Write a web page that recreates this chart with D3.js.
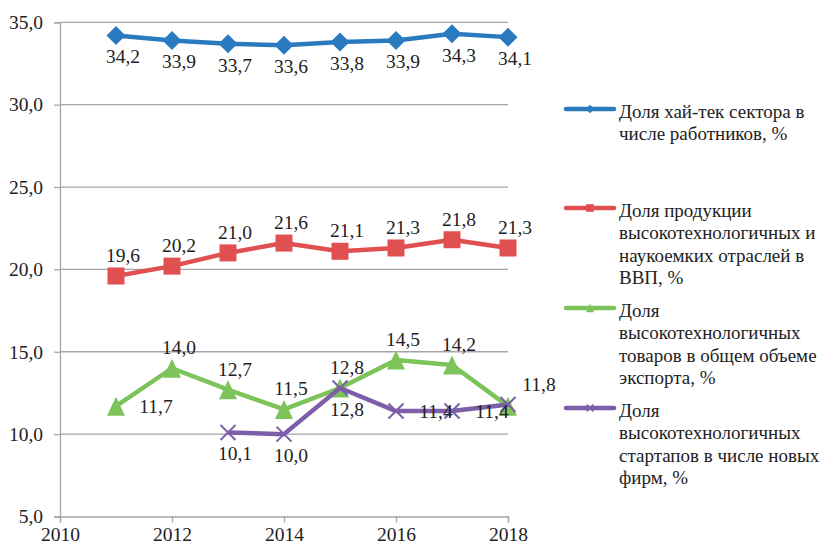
<!DOCTYPE html>
<html><head><meta charset="utf-8">
<script src="https://cdn.jsdelivr.net/npm/d3@7"></script>
<style>
html,body{margin:0;padding:0;background:#fff;}
</style></head>
<body>
<svg id="chart" width="822" height="547"></svg>
<script>
// ---- data ----
const years = [2011, 2012, 2013, 2014, 2015, 2016, 2017, 2018];
const purpleYears = [2013, 2014, 2015, 2016, 2017, 2018];
const hitechEmployment = [34.2, 33.9, 33.7, 33.6, 33.8, 33.9, 34.3, 34.1];
const hitechGdp = [19.6, 20.2, 21.0, 21.6, 21.1, 21.3, 21.8, 21.3];
const hitechExports = [11.7, 14.0, 12.7, 11.5, 12.8, 14.5, 14.2, 11.7];
const hitechStartups = [10.1, 10.0, 12.8, 11.4, 11.4, 11.8];
const yTicks = [5, 10, 15, 20, 25, 30, 35];
const xTicks = [2010, 2012, 2014, 2016, 2018];
const legendLabels = [
  ["Доля хай-тек сектора в", "числе работников, %"],
  ["Доля продукции", "высокотехнологичных и", "наукоемких отраслей в", "ВВП, %"],
  ["Доля", "высокотехнологичных", "товаров в общем объеме", "экспорта, %"],
  ["Доля", "высокотехнологичных", "стартапов в числе новых", "фирм, %"]
];

// label placements (style only)
const placeBlue = ["below","below","below","below","below","below","below","below"];
const placeRed = ["above","above","above","above","above","above","above","above"];
const placeGreen = ["right","above","above","above","above","above","above","none"];
const placePurple = ["below","below","below","right","right","aboveRight"];

const series = [
  {x: years, y: hitechEmployment, color: "#2a7abf", marker: "diamond", place: placeBlue},
  {x: years, y: hitechGdp, color: "#e05050", marker: "square", place: placeRed},
  {x: years, y: hitechExports, color: "#7cc35a", marker: "triangle", place: placeGreen},
  {x: purpleYears, y: hitechStartups, color: "#7d5ea8", marker: "cross", place: placePurple}
];

const FONT = '"Liberation Serif"';
const NUM_SIZE = "19.5px";
const LEG_SIZE = "19px";
const svg = d3.select("#chart");
const x = d3.scaleLinear().domain([2010, 2018]).range([60, 508]);
const y = d3.scaleLinear().domain([5, 35]).range([516.5, 22.3]);
const fmt = v => d3.format(".1f")(v).replace(".", ",");

// gridlines
svg.append("g").selectAll("line").data(yTicks.filter(t => t > 5)).join("line")
  .attr("x1", 60).attr("x2", 508)
  .attr("y1", d => y(d)).attr("y2", d => y(d))
  .attr("stroke", "#a6a6a6").attr("stroke-width", 1.3);

// y axis
const yAxis = d3.axisLeft(y).tickValues(yTicks).tickFormat(fmt).tickSize(6).tickPadding(11);
const gy = svg.append("g").attr("transform", "translate(60,0)").call(yAxis);
gy.attr("font-family", null).attr("font-size", null);
gy.select(".domain").attr("stroke", "#a6a6a6").attr("stroke-width", 1.3);
gy.selectAll(".tick line").attr("stroke", "#a6a6a6").attr("stroke-width", 1.3);
gy.selectAll("text").style("font-size", NUM_SIZE).style("font-family", FONT).attr("fill", "#222");

// x axis
const xAxis = d3.axisBottom(x).tickValues(xTicks).tickFormat(d3.format("d")).tickSize(6).tickPadding(5);
const gx = svg.append("g").attr("transform", "translate(0,516.5)").call(xAxis);
gx.attr("font-family", null).attr("font-size", null);
gx.select(".domain").attr("stroke", "#a6a6a6").attr("stroke-width", 1.3);
gx.selectAll(".tick line").attr("stroke", "#a6a6a6").attr("stroke-width", 1.3);
gx.selectAll("text").style("font-size", NUM_SIZE).style("font-family", FONT).attr("fill", "#222");

function markerPath(type, s) {
  const p = d3.path();
  if (type === "diamond") {
    const r = 9.5 * s;
    p.moveTo(0, -r); p.lineTo(r, 0); p.lineTo(0, r); p.lineTo(-r, 0); p.closePath();
  } else if (type === "square") {
    const r = 8.5 * s;
    p.rect(-r, -r, 2 * r, 2 * r);
  } else if (type === "triangle") {
    const w = 9 * s, h = 9.5 * s;
    p.moveTo(0, -h); p.lineTo(w, h); p.lineTo(-w, h); p.closePath();
  } else if (type === "cross") {
    const r = 7.5 * s;
    p.moveTo(-r, -r); p.lineTo(r, r); p.moveTo(r, -r); p.lineTo(-r, r);
  }
  return p.toString();
}

const line = d3.line().x(d => x(d[0])).y(d => y(d[1]));

series.forEach(s => {
  const pts = s.x.map((xv, i) => [xv, s.y[i]]);
  const g = svg.append("g");
  g.append("path").attr("d", line(pts)).attr("fill", "none")
    .attr("stroke", s.color).attr("stroke-width", 4.5).attr("stroke-linejoin", "round");
  g.selectAll("path.m").data(pts).join("path").attr("class", "m")
    .attr("transform", d => `translate(${x(d[0])},${y(d[1])})`)
    .attr("d", markerPath(s.marker, 1))
    .attr("fill", s.marker === "cross" ? "none" : s.color)
    .attr("stroke", s.color)
    .attr("stroke-width", s.marker === "cross" ? 2 : 0);
});

// data labels
const off = {
  below: [7, 28], above: [7, -14], right: [40, 7], aboveRight: [31, -13]
};
series.forEach(s => {
  s.x.forEach((xv, i) => {
    const pl = s.place[i];
    if (pl === "none") return;
    const o = off[pl];
    svg.append("text")
      .attr("x", x(xv) + o[0]).attr("y", y(s.y[i]) + o[1])
      .attr("text-anchor", "middle")
      .style("font-size", NUM_SIZE).style("font-family", FONT).attr("fill", "#222")
      .text(fmt(s.y[i]));
  });
});

// legend
const legendY = [109, 208, 308, 408];
series.forEach((s, i) => {
  const g = svg.append("g").attr("transform", `translate(0,${legendY[i]})`);
  g.append("line").attr("x1", 566).attr("x2", 614).attr("y1", 0).attr("y2", 0)
    .attr("stroke", s.color).attr("stroke-width", 4.5).attr("stroke-linecap", "round");
  g.append("path").attr("transform", "translate(590,0)")
    .attr("d", markerPath(s.marker, 0.45))
    .attr("fill", s.marker === "cross" ? "none" : s.color)
    .attr("stroke", s.color).attr("stroke-width", s.marker === "cross" ? 1.5 : 0);
  legendLabels[i].forEach((t, j) => {
    g.append("text").attr("x", 619).attr("y", 8.5 + j * 22.5)
      .style("font-size", LEG_SIZE).style("font-family", FONT).attr("fill", "#222")
      .text(t);
  });
});
</script>
</body></html>
